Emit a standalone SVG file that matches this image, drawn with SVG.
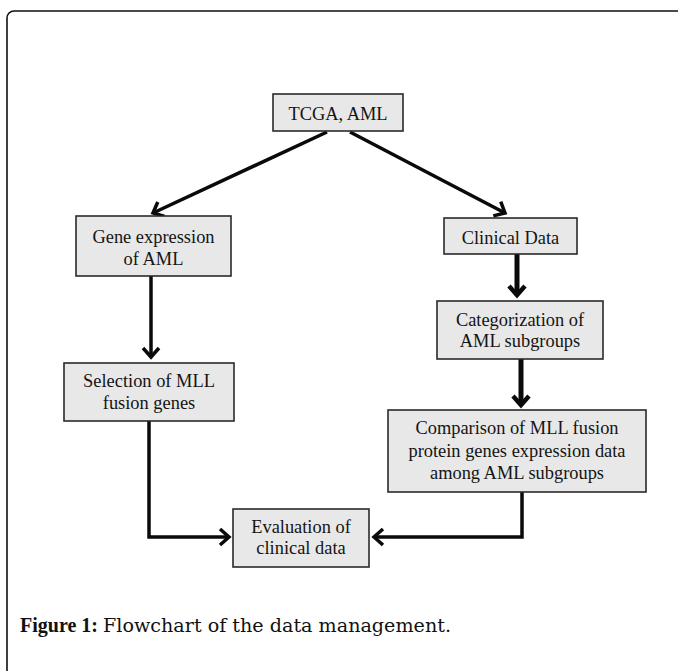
<svg xmlns="http://www.w3.org/2000/svg" width="678" height="671" viewBox="0 0 678 671">
<style>
.box{fill:#e8e8e8;stroke:#2a2a2a;stroke-width:1.6}
.t{font-family:"Liberation Serif","Times New Roman",serif;font-size:18.4px;fill:#141414;text-anchor:middle}
.c{fill:none;stroke:#0a0a0a;stroke-linejoin:miter;stroke-linecap:butt}
.thin{stroke-width:3.5}
.thick{stroke-width:5}
.capb{font-family:"Liberation Serif","Times New Roman",serif;font-weight:bold;font-size:20px;fill:#111}
.cap{font-family:"DejaVu Serif",serif;font-size:19px;fill:#111}
</style>
<defs>
<marker id="ah" markerUnits="userSpaceOnUse" viewBox="-14 -12 18 24" refX="0" refY="0" markerWidth="18" markerHeight="24" orient="auto" overflow="visible">
<path d="M-9,-8 L0,0 L-9,8" fill="none" stroke="#0a0a0a" stroke-width="3.5"/>
</marker>
<marker id="ahk" markerUnits="userSpaceOnUse" viewBox="-14 -12 18 24" refX="0" refY="0" markerWidth="18" markerHeight="24" orient="auto" overflow="visible">
<path d="M-9,-8 L0,0 L-9,8" fill="none" stroke="#0a0a0a" stroke-width="4.5"/>
</marker>
</defs>
<rect x="7" y="11" width="720" height="720" rx="7" ry="7" fill="#fff" stroke="#111" stroke-width="1.6"/>
<g id="connectors">
<path class="c thin" d="M327,132 L153,213" marker-end="url(#ah)"/>
<path class="c thin" d="M350,132 L505,213" marker-end="url(#ah)"/>
<path class="c thick" d="M517,254 L517,295" marker-end="url(#ahk)"/>
<path class="c thick" d="M521,359 L521,405" marker-end="url(#ahk)"/>
<path class="c thin" d="M151,276 L151,357" marker-end="url(#ah)"/>
<path class="c thin" d="M149,421 L149,537 L229,537" marker-end="url(#ah)"/>
<path class="c thin" d="M522,492 L522,537 L374,537" marker-end="url(#ah)"/>
</g>
<g id="tcga">
<rect class="box" x="273" y="94" width="130" height="37"/>
<text class="t" x="338" y="120">TCGA, AML</text>
</g>
<g id="gene">
<rect class="box" x="76" y="216" width="155" height="60"/>
<text class="t" x="153.5" y="243">Gene expression</text>
<text class="t" x="153.5" y="264.5">of AML</text>
</g>
<g id="clinical">
<rect class="box" x="444" y="218" width="133" height="36"/>
<text class="t" x="510.5" y="244">Clinical Data</text>
</g>
<g id="categorization">
<rect class="box" x="437" y="301" width="166" height="58"/>
<text class="t" x="520" y="325.7">Categorization of</text>
<text class="t" x="520" y="346.7">AML subgroups</text>
</g>
<g id="selection">
<rect class="box" x="64" y="363" width="170" height="58"/>
<text class="t" x="149" y="387.3">Selection of MLL</text>
<text class="t" x="149" y="409.3">fusion genes</text>
</g>
<g id="comparison">
<rect class="box" x="388" y="410" width="258" height="82"/>
<text class="t" x="517" y="434">Comparison of MLL fusion</text>
<text class="t" x="517" y="456.5">protein genes expression data</text>
<text class="t" x="517" y="479">among AML subgroups</text>
</g>
<g id="evaluation">
<rect class="box" x="233" y="509" width="136" height="58"/>
<text class="t" x="301" y="533.3">Evaluation of</text>
<text class="t" x="301" y="554.3">clinical data</text>
</g>
<text class="capb" x="20" y="632">Figure 1:</text>
<text class="cap" x="103" y="632" textLength="348" lengthAdjust="spacingAndGlyphs">Flowchart of the data management.</text>
</svg>
